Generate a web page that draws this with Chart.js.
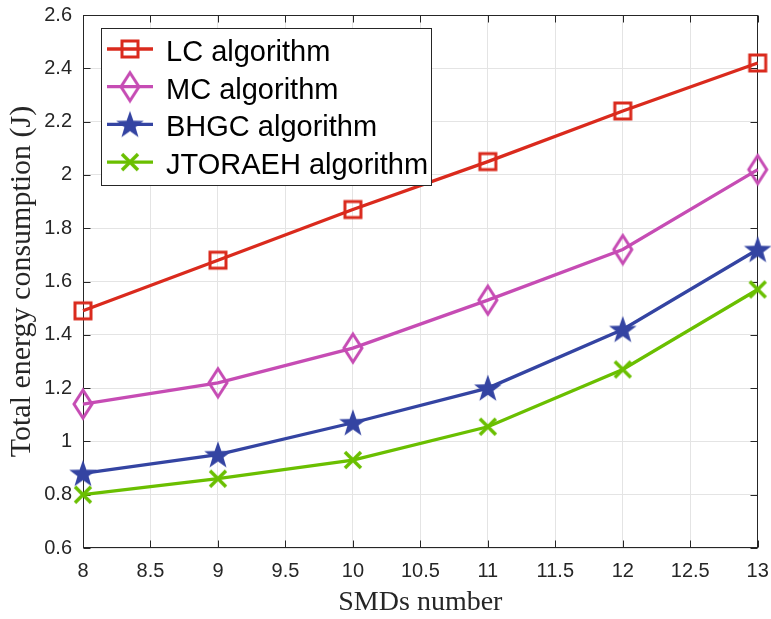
<!DOCTYPE html>
<html>
<head>
<title>Total energy consumption vs SMDs number</title>
<script src="https://cdn.jsdelivr.net/npm/chart.js"></script>
<style>
  html, body { margin: 0; padding: 0; background: #fff; }
  #wrap { width: 771px; height: 619px; }
</style>
</head>
<body>
<div id="wrap"><canvas id="energyChart" width="771" height="619"></canvas></div>
<script>
// data
const smdNumbers = [8, 9, 10, 11, 12, 13];
const lcEnergy = [1.49, 1.68, 1.87, 2.05, 2.24, 2.42];
const mcEnergy = [1.14, 1.22, 1.35, 1.53, 1.72, 2.02];
const bhgcEnergy = [0.88, 0.95, 1.07, 1.20, 1.42, 1.72];
const jtoraehEnergy = [0.80, 0.86, 0.93, 1.055, 1.27, 1.57];
const seriesNames = ['LC algorithm', 'MC algorithm', 'BHGC algorithm', 'JTORAEH algorithm'];
const xTicks = [8, 8.5, 9, 9.5, 10, 10.5, 11, 11.5, 12, 12.5, 13];
const yTicks = [0.6, 0.8, 1, 1.2, 1.4, 1.6, 1.8, 2, 2.2, 2.4, 2.6];

const AXIS_COLOR = '#262626';

// marker images, matlab style
function makeMarker(kind, color) {
    const c = document.createElement('canvas');
    const g = c.getContext('2d');
    if (kind === 'square') {
        c.width = 22; c.height = 22;
        g.strokeStyle = color; g.lineWidth = 3;
        g.strokeRect(3, 3, 16, 16);
    } else if (kind === 'diamond') {
        c.width = 26; c.height = 34;
        g.strokeStyle = color; g.lineWidth = 3; g.lineJoin = 'miter';
        g.beginPath();
        g.moveTo(13, 3); g.lineTo(22, 17); g.lineTo(13, 31); g.lineTo(4, 17);
        g.closePath(); g.stroke();
    } else if (kind === 'star') {
        c.width = 32; c.height = 32;
        g.fillStyle = color;
        g.beginPath();
        for (let i = 0; i < 10; i++) {
            const r = i % 2 === 0 ? 14.5 : 5.8;
            const a = -Math.PI / 2 + i * Math.PI / 5;
            const px = 16 + r * Math.cos(a), py = 17 + r * Math.sin(a);
            if (i === 0) g.moveTo(px, py); else g.lineTo(px, py);
        }
        g.closePath(); g.fill();
    } else {
        c.width = 22; c.height = 22;
        g.strokeStyle = color; g.lineWidth = 3.5;
        g.beginPath();
        g.moveTo(3, 3); g.lineTo(19, 19);
        g.moveTo(19, 3); g.lineTo(3, 19);
        g.stroke();
    }
    return c;
}

const colors = ['#da2a1d', '#c64cb4', '#3444a2', '#6abf00'];
const markers = ['square', 'diamond', 'star', 'cross'];
const seriesValues = [lcEnergy, mcEnergy, bhgcEnergy, jtoraehEnergy];

const datasets = seriesValues.map((vals, i) => ({
    label: seriesNames[i],
    data: smdNumbers.map((x, j) => ({ x: x, y: vals[j] })),
    borderColor: colors[i],
    backgroundColor: colors[i],
    borderWidth: 3.3,
    pointStyle: makeMarker(markers[i], colors[i]),
    pointRadius: 10,
    tension: 0,
    clip: false
}));

// box + inward ticks like matlab
const framePlugin = {
    id: 'frame',
    beforeDatasetsDraw(chart) {
        const { ctx, chartArea: a, scales } = chart;
        ctx.save();
        ctx.strokeStyle = AXIS_COLOR;
        ctx.lineWidth = 1;
        const L = Math.round(a.left) + 0.5, R = Math.round(a.right) - 0.5;
        const T = Math.round(a.top) + 0.5, B = Math.round(a.bottom) - 0.5;
        ctx.strokeRect(L, T, R - L, B - T);
        ctx.beginPath();
        xTicks.forEach(v => {
            const px = Math.round(scales.x.getPixelForValue(v)) + 0.5;
            ctx.moveTo(px, B); ctx.lineTo(px, B - 7);
            ctx.moveTo(px, T); ctx.lineTo(px, T + 7);
        });
        yTicks.forEach(v => {
            const py = Math.round(scales.y.getPixelForValue(v)) + 0.5;
            ctx.moveTo(L, py); ctx.lineTo(L + 7, py);
            ctx.moveTo(R, py); ctx.lineTo(R - 7, py);
        });
        ctx.stroke();
        ctx.restore();
    }
};

// legend box inside the axes (upper left)
const boxLegend = {
    id: 'boxLegend',
    afterDatasetsDraw(chart) {
        const ctx = chart.ctx;
        ctx.save();
        ctx.fillStyle = '#fff';
        ctx.fillRect(101, 28, 330, 157);
        ctx.strokeStyle = AXIS_COLOR;
        ctx.lineWidth = 1;
        ctx.strokeRect(101.5, 28.5, 330, 157);
        chart.data.datasets.forEach((ds, i) => {
            const cy = 49 + i * 37.7;
            ctx.strokeStyle = ds.borderColor;
            ctx.lineWidth = 3.3;
            ctx.beginPath();
            ctx.moveTo(107, cy); ctx.lineTo(153, cy);
            ctx.stroke();
            const img = ds.pointStyle;
            ctx.drawImage(img, 130 - img.width / 2, cy - img.height / 2);
            ctx.fillStyle = '#000';
            ctx.font = '29px "Liberation Sans", Arial, sans-serif';
            ctx.textBaseline = 'alphabetic';
            ctx.textAlign = 'left';
            ctx.fillText(ds.label, 166, cy + 12);
        });
        ctx.restore();
    }
};

const tickFont = { family: '"Liberation Sans", Arial, sans-serif', size: 20 };

const chart = new Chart(document.getElementById('energyChart'), {
    type: 'line',
    data: { datasets: datasets },
    options: {
        responsive: false,
        animation: false,
        devicePixelRatio: 1,
        layout: { padding: { left: 0, top: 15, right: 13, bottom: 0 } },
        plugins: { legend: { display: false }, tooltip: { enabled: false } },
        scales: {
            x: {
                type: 'linear',
                min: 8, max: 13,
                afterBuildTicks: s => { s.ticks = xTicks.map(v => ({ value: v })); },
                afterFit: s => { s.height = 71; s.paddingLeft = 0; s.paddingRight = 0; },
                grid: { color: '#e4e4e4', drawTicks: false },
                border: { display: false },
                ticks: { color: AXIS_COLOR, font: tickFont, padding: 11, maxRotation: 0, callback: v => String(v) },
                title: {
                    display: true, text: 'SMDs number', color: AXIS_COLOR,
                    font: { family: '"Liberation Serif", "Times New Roman", serif', size: 28 },
                    padding: { top: 0, bottom: 0 }
                }
            },
            y: {
                min: 0.6, max: 2.6,
                afterBuildTicks: s => { s.ticks = yTicks.map(v => ({ value: v })); },
                afterFit: s => { s.width = 83; s.paddingTop = 0; s.paddingBottom = 0; },
                grid: { color: '#e4e4e4', drawTicks: false },
                border: { display: false },
                ticks: { color: AXIS_COLOR, font: tickFont, padding: 11, callback: v => String(v) },
                title: {
                    display: true, text: 'Total energy consumption (J)', color: AXIS_COLOR,
                    font: { family: '"Liberation Serif", "Times New Roman", serif', size: 30 },
                    padding: { top: 4, bottom: 0 }
                }
            }
        }
    },
    plugins: [framePlugin, boxLegend]
});
</script>
</body>
</html>
